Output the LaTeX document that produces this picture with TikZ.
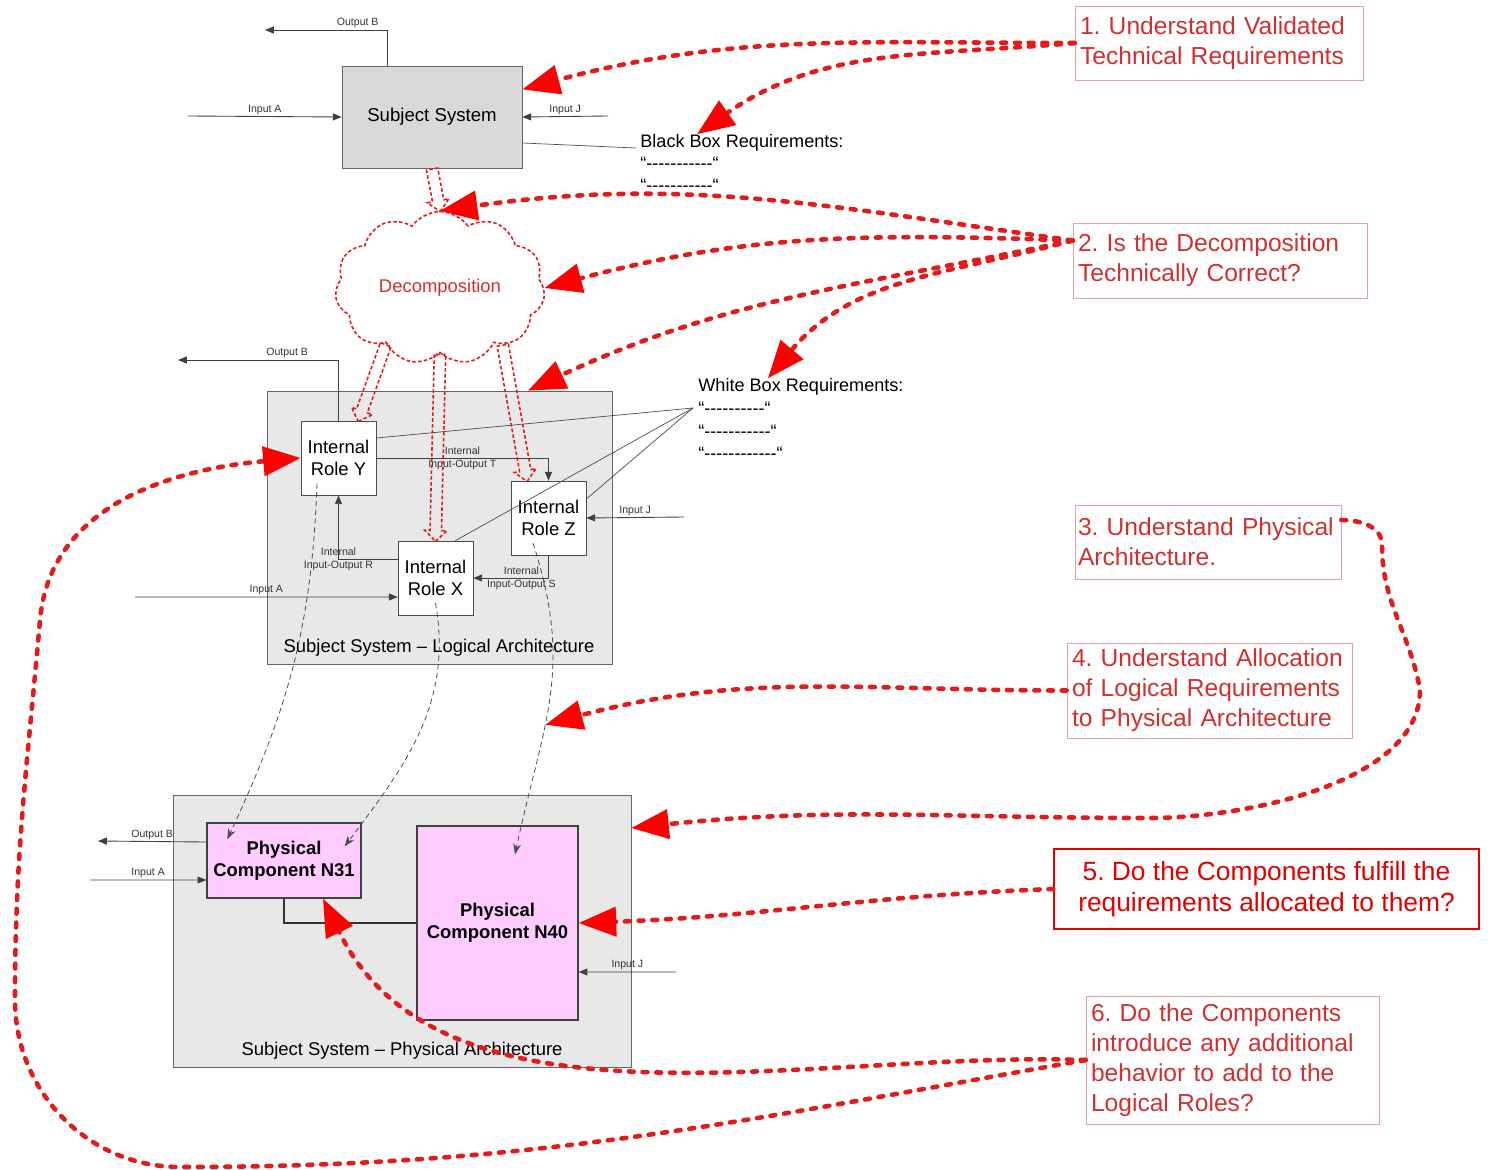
\documentclass[tikz,border=0pt]{standalone}
\usepackage{fontspec}
\setmainfont{Liberation Sans}
\usetikzlibrary{arrows.meta,shapes.symbols,shapes.arrows,calc}

\definecolor{qred}{HTML}{D03030}
\definecolor{qframe}{HTML}{E6A0A0}
\definecolor{brightred}{HTML}{E00000}
\definecolor{linkred}{HTML}{E31B1B}
\definecolor{boxgray}{HTML}{D9D9D9}
\definecolor{archgray}{HTML}{E8E8E8}
\definecolor{compink}{HTML}{FFCCFF}

\newcommand{\reqdash}[1]{“\foreach \k in {1,...,#1}{-}“}
\newcommand{\decomparrow}[2]{%
  \path let \p1=($(#2)-(#1)$), \n1={atan2(\y1,\x1)}, \n2={veclen(\x1,\y1)} in
    node[decarrow, rotate=\n1, minimum height=\n2, anchor=tail] at (#1) {};}

\tikzset{
  io/.style={draw=black!75, line width=0.5pt, -{Triangle[length=5pt,width=4pt]}},
  iolabel/.style={font=\fontsize{6}{7.4}\selectfont, text=black!80, inner sep=1pt},
  sysbox/.style={draw=black!60, fill=boxgray, font=\fontsize{10.6}{12.5}\selectfont},
  role/.style={draw=black!70, fill=white, minimum width=1.5cm, minimum height=1.48cm,
    align=center, font=\fontsize{10.5}{12.5}\selectfont, inner sep=1pt},
  arch/.style={draw=black!60, fill=archgray},
  archtitle/.style={font=\fontsize{10.5}{12.5}\selectfont, inner sep=1pt},
  comp/.style={draw=black!75, fill=compink, line width=0.8pt, align=center,
    font=\fontsize{10.5}{12.5}\selectfont\bfseries},
  question/.style={draw=qframe, text=qred, align=left, inner xsep=0.1cm,
    font=\fontsize{14}{17}\selectfont},
  req/.style={font=\fontsize{10.3}{12}\selectfont, inner sep=0pt, anchor=west},
  link/.style={draw=linkred, line width=2.6pt, line cap=round, dash pattern=on 2.8pt off 5pt,
    -{Triangle[length=0.75cm,width=0.58cm,fill=red,color=red]}},
  alloc/.style={draw=black!70, line width=0.45pt, dash pattern=on 3pt off 2pt,
    -{Stealth[length=6pt,width=4.5pt]}},
  decarrow/.style={single arrow, draw=linkred, line width=0.9pt, dash pattern=on 2pt off 1.3pt,
    minimum width=0.44cm, single arrow head extend=3pt, inner sep=2.8pt}
}

\begin{document}
\frenchspacing
\begin{tikzpicture}[x=0.02cm, y=0.02cm]
    \useasboundingbox (0,0) rectangle (1489,-1170);

    % black box
    \node[sysbox, minimum width=3.6cm, minimum height=2.04cm] (sys) at (432,-117) {Subject System};
    \coordinate (sysOut) at (265,-30);
    \coordinate (sysInA) at (188,-116);
    \coordinate (sysInJ) at (608,-116);
    \draw[io] ([xshift=-0.9cm]sys.north) |- (sysOut) node[iolabel, pos=0.62, above] {Output B};
    \draw[io] (sysInA) -- (sys.west) node[iolabel, midway, above] {Input A};
    \draw[io] (sysInJ) -- (sys.east) node[iolabel, midway, above] {Input J};
    \node[req] (bb) at (640,-143) {Black Box Requirements:};
    \node[req] (bb1) at (640,-163) {\reqdash{11}};
    \node[req] (bb2) at (640,-185) {\reqdash{11}};
    \draw[black!70] ([yshift=-0.52cm]sys.east) -- ([xshift=-0.08cm,yshift=-0.1cm]bb.west);

    % decomposition
    \node[cloud, cloud puffs=11, cloud puff arc=110, aspect=1.45, draw=linkred, line width=0.9pt,
      dash pattern=on 2pt off 1.3pt, minimum width=4.2cm, minimum height=2.9cm, text=qred,
      font=\fontsize{10.5}{12}\selectfont] (cloud) at (440,-288) {Decomposition};

    % logical architecture
    \node[arch, minimum width=6.9cm, minimum height=5.46cm] (logical) at (439.5,-527.5) {};
    \node[archtitle] (logtitle) at (439,-648) {Subject System – Logical Architecture};
    \node[role] (Y) at (338.5,-458) {Internal\\Role Y};
    \node[role] (Z) at (548.5,-518) {Internal\\Role Z};
    \node[role] (X) at (435.5,-578) {Internal\\Role X};
    \coordinate (logOut) at (178,-360);
    \coordinate (logInA) at (135,-597);
    \coordinate (logInJ) at (684,-517);
    \draw[io] (Y.north) |- (logOut) node[iolabel, pos=0.66, above] {Output B};
    \draw[io] (logInA) -- ([yshift=-0.38cm]X.west) node[iolabel, midway, above] {Input A};
    \draw[io] (logInJ) -- (Z.east) node[iolabel, midway, above] {Input J};
    \draw[io] (Y.east) -| (Z.north) node[iolabel, pos=0.25, align=center] {Internal\\Input-Output T};
    \draw[io] ([yshift=0.38cm]X.west) -| (Y.south) node[iolabel, pos=0.5, align=center] {Internal\\Input-Output R};
    \draw[io] (Z.south) |- (X.east) node[iolabel, pos=0.68, align=center] {Internal\\Input-Output S};
    \node[req] (wb) at (698,-387) {White Box Requirements:};
    \node[req] (wb1) at (698,-408) {\reqdash{10}};
    \node[req] (wb2) at (698,-431) {\reqdash{11}};
    \node[req] (wb3) at (698,-453) {\reqdash{12}};
    \draw[black!70] ([yshift=0.4cm]Y.east) -- ([xshift=-0.1cm]wb1.west);
    \draw[black!70] ([xshift=-0.36cm]X.north east) -- ([xshift=-0.1cm]wb1.west);
    \draw[black!70] ([yshift=0.38cm]Z.east) -- ([xshift=-0.1cm]wb1.west);

    % decomposition arrows
    \decomparrow{sys.south}{cloud.north}
    \decomparrow{cloud.226}{[xshift=0.4cm]Y.north}
    \decomparrow{cloud.south}{X.north}
    \decomparrow{cloud.318}{[xshift=-0.43cm]Z.north}

    % physical architecture
    \node[arch, minimum width=9.16cm, minimum height=5.44cm] (physical) at (402,-931) {};
    \node[archtitle] (phytitle) at (402,-1051) {Subject System – Physical Architecture};
    \node[comp, minimum width=3.08cm, minimum height=1.5cm] (n31) at (284,-860.5) {Physical\\Component N31};
    \node[comp, minimum width=3.22cm, minimum height=3.88cm] (n40) at (497.5,-923) {Physical\\Component N40};
    \coordinate (phyOut) at (98,-841);
    \coordinate (phyInA) at (90,-880);
    \coordinate (phyInJ) at (676,-972);
    \draw[io] ([yshift=0.37cm]n31.west) -- (phyOut) node[iolabel, midway, above] {Output B};
    \draw[io] (phyInA) -- ([yshift=-0.39cm]n31.west) node[iolabel, midway, above] {Input A};
    \draw[io] (phyInJ) -- ([yshift=-0.98cm]n40.east) node[iolabel, midway, above] {Input J};
    \draw[black!80, line width=0.7pt] (n31.south) |- (n40.west);

    % allocation
    \draw[alloc] ([xshift=-0.43cm,yshift=0.24cm]Y.south) to[out=-92,in=65] ([xshift=0.42cm,yshift=-0.34cm]n31.north west);
    \draw[alloc] ([yshift=-0.5cm]X.center) to[out=-80,in=53] ([xshift=-0.34cm,yshift=-0.48cm]n31.north east);
    \draw[alloc] ([xshift=-0.31cm,yshift=-0.5cm]Z.center) to[out=-72,in=78,looseness=1.1]
      coordinate[pos=0.6] (alloc) ([xshift=0.35cm,yshift=-0.58cm]n40.north);

    % questions
    \node[question, text width=5.56cm, minimum height=1.48cm] (q1) at (1219,-43) {1. Understand Validated\\Technical Requirements};
    \node[question, text width=5.68cm, minimum height=1.5cm] (q2) at (1220,-260.5) {2. Is the Decomposition\\Technically Correct?};
    \node[question, text width=5.2cm, inner xsep=0.06cm, minimum height=1.48cm] (q3) at (1208,-542) {3. Understand Physical\\Architecture.};
    \node[question, text width=5.5cm, minimum height=1.9cm] (q4) at (1209.5,-690.5) {4. Understand Allocation\\of Logical Requirements\\to Physical Architecture};
    \node[question, draw=brightred, text=brightred, line width=0.8pt, align=center, minimum width=8.5cm,
      minimum height=1.6cm, font=\fontsize{15}{18}\selectfont] (q5) at (1266.5,-889) {5. Do the Components fulfill the\\requirements allocated to them?};
    \node[question, text width=5.66cm, minimum height=2.56cm] (q6) at (1232.5,-1060) {6. Do the Components\\introduce any additional\\behavior to add to the\\Logical Roles?};

    % review links
    \coordinate (q2in) at ([yshift=0.4cm]q2.west);
    \coordinate (q3out) at ([yshift=0.44cm]q3.east);
    \draw[link] (q1.west) to[out=180,in=15] (sys.17);
    \draw[link] (q1.west) to[out=185,in=35] ([xshift=-0.9cm]bb.north);
    \draw[link] (q2in) to[out=172,in=8] (cloud.north);
    \draw[link] (q2in) to[out=178,in=15] (cloud.east);
    \draw[link] (q2in) to[out=192,in=25] ([xshift=1.77cm]logical.north);
    \draw[link] (q2in) to[out=195,in=50] ([xshift=-0.66cm]wb.north);
    \draw[link] (q3out) to[out=0,in=90] (1382,-545) to[out=-90,in=100] (1420,-690)
      to[out=-90,in=0,looseness=0.8] (1150,-818) to[out=180,in=6] ([yshift=2.06cm]physical.east);
    \draw[link] (q4.west) to[out=180,in=15] (alloc);
    \draw[link] (q5.west) to[out=182,in=2] (n40.east);
    \draw[link] (q6.west) to[out=178,in=-64,looseness=0.9] ([xshift=0.78cm]n31.south);
    \draw[link] (q6.west) to[out=190,in=0] (180,-1167) to[out=180,in=-90] (15,-1000)
      to[out=90,in=-95] (40,-620) to[out=85,in=185] (Y.west);
\end{tikzpicture}
\end{document}
